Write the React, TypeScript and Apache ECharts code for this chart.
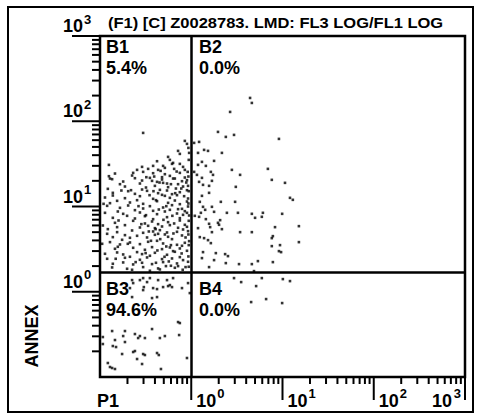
import React, { useEffect, useRef } from "react";
import * as echarts from "echarts";

// ---- texts ----
const TITLE = "(F1) [C] Z0028783. LMD: FL3 LOG/FL1 LOG";
const X_NAME = "P1";
const Y_NAME = "ANNEX";
const QUAD_NAMES = ["B1", "B2", "B3", "B4"];
const QUAD_PERCENTS = ["5.4%", "0.0%", "94.6%", "0.0%"];

// ---- axis scale: 4-decade log display, 1024 channels (0.1 .. 1000) ----
const CHANNEL_MAX = 1024;
const CHANNELS_PER_DECADE = 256;
const DECADE_CHANNELS = [256, 512, 768, 1024];
const DECADE_EXPONENTS = ["0", "1", "2", "3"];
const MINOR_MULTIPLIERS = [2, 3, 4, 5, 6, 7, 8, 9];

// ---- quadrant cursor (channels) ----
const QUAD_X = 256;
const QUAD_Y = 315;

// ---- events [FL1 channel, FL3 channel] ----
const B1_POINTS = [
  [121, 733], [238, 709], [244, 700], [219, 679], [224, 670], [250, 673], [191, 661], [205, 643],
  [25, 637], [118, 631], [135, 625], [149, 634], [163, 622], [177, 634], [182, 628], [202, 640],
  [208, 625], [233, 631], [104, 622], [238, 622], [121, 616], [93, 613],
  [25, 603], [42, 611], [90, 605], [149, 612], [174, 600], [182, 609], [196, 604], [224, 613], [238, 599], [28, 596], [146, 589],
  [34, 594], [65, 587], [98, 597], [118, 590], [140, 598], [160, 586], [174, 593], [188, 581], [205, 596], [230, 588], [244, 591],
  [56, 579], [70, 572], [112, 581], [154, 574], [177, 583], [191, 570], [219, 579], [233, 572],
  [22, 565], [87, 561], [129, 569], [168, 562], [213, 566], [247, 574],
  [36, 553], [79, 558], [98, 550], [132, 559], [163, 552], [188, 560], [202, 549], [224, 555], [244, 561],
  [14, 539], [36, 545], [70, 537], [112, 543], [149, 535], [182, 544], [196, 538], [216, 546], [247, 536],
  [28, 522], [48, 529], [84, 524], [104, 531], [121, 520], [160, 528], [191, 523], [210, 530], [224, 519], [244, 527],
  [20, 514], [56, 508], [79, 515], [121, 506], [140, 513], [177, 509], [202, 516], [230, 505], [247, 512],
  [98, 501], [149, 499], [196, 502], [238, 498],
  [14, 493], [50, 497], [65, 490], [112, 494], [160, 489], [182, 497], [216, 491], [244, 493], [250, 485],
  [36, 478], [76, 484], [98, 476], [126, 483], [149, 474], [188, 480], [224, 477],
  [42, 463], [93, 469], [126, 461], [146, 467], [163, 459], [191, 465], [224, 470],
  [8, 455], [48, 450], [70, 456], [112, 449], [135, 454], [154, 447], [174, 452], [196, 456], [219, 448], [244, 451],
  [22, 444], [168, 441], [233, 443], [247, 438],
  [48, 435], [90, 440], [121, 433], [149, 437], [163, 430], [188, 434], [216, 436],
  [36, 420], [70, 426], [84, 418], [104, 424], [132, 419], [154, 427], [191, 421], [230, 425],
  [62, 412], [160, 409], [202, 414], [250, 408],
  [6, 400], [28, 405], [56, 398], [84, 404], [112, 399], [135, 406], [177, 401], [216, 397], [238, 403],
  [42, 385], [50, 391], [93, 388], [126, 382], [146, 390], [174, 384], [196, 389], [224, 386], [244, 379],
  [14, 370], [48, 374], [65, 368], [104, 375], [118, 369], [154, 373], [188, 367], [210, 376],
  [84, 361], [140, 364], [224, 360],
  [20, 355], [70, 358], [112, 352], [132, 359], [174, 354], [202, 356], [233, 351], [247, 346],
  [36, 340], [65, 344], [93, 338], [118, 343], [146, 339], [177, 345], [216, 341],
  [34, 329], [76, 325], [121, 330], [163, 326], [210, 328], [219, 333],
  [90, 322], [140, 319], [168, 323],
  [152, 602], [167, 584], [199, 579], [228, 566], [211, 552], [174, 547], [236, 543], [157, 531],
  [186, 513], [219, 504], [165, 503], [233, 487], [203, 484], [178, 472], [208, 461], [238, 457],
  [156, 444], [182, 428], [206, 431], [240, 419], [169, 414], [143, 409], [199, 396], [186, 392],
  [230, 394], [161, 380], [205, 378], [181, 361], [229, 371], [193, 347], [157, 343], [240, 330],
  [199, 334], [128, 372], [137, 437], [116, 459], [129, 486], [108, 513], [139, 546], [118, 563],
  [150, 558], [210, 596], [242, 584], [170, 619], [224, 640], [196, 652], [60, 560], [52, 470],
  [78, 400], [20, 430], [10, 520], [44, 355], [100, 345], [185, 333], [232, 322], [246, 616],
  [160, 648], [130, 600], [215, 617],
  [248, 602], [249, 558], [248, 521], [249, 469], [248, 428], [249, 396], [248, 362], [249, 331], [249, 652], [248, 688],
];

const B2_POINTS = [
  [421, 838], [426, 823], [365, 796], [331, 736], [353, 721], [376, 727], [502, 715],
  [264, 703], [278, 706], [275, 673], [292, 682], [303, 679], [342, 673], [320, 649],
  [275, 637], [286, 646], [297, 634], [370, 622], [393, 607], [471, 625], [264, 616],
  [272, 607], [311, 616], [317, 607], [286, 598], [482, 592], [314, 589], [519, 583],
  [278, 586], [289, 577], [306, 574], [381, 571], [306, 553], [286, 544], [533, 538],
  [541, 532], [280, 526], [339, 526], [379, 526], [289, 511], [314, 511], [295, 502],
  [320, 496], [283, 493], [278, 481], [266, 484], [356, 493], [387, 493], [426, 490],
  [435, 478], [457, 493], [454, 481], [511, 490], [297, 474], [337, 471], [331, 463],
  [334, 457], [306, 460], [309, 450], [342, 444], [275, 447], [491, 450], [558, 453],
  [314, 435], [393, 435], [426, 435], [485, 423], [482, 417], [280, 420], [292, 417],
  [303, 411], [311, 402], [558, 405], [482, 393], [505, 396], [502, 378], [508, 375],
  [289, 375], [325, 372], [351, 369], [359, 363], [286, 357], [320, 351], [353, 342],
  [390, 339], [426, 339], [443, 348], [485, 345], [306, 330], [432, 318],
];

const B3_POINTS = [
  [90, 291], [93, 282], [84, 267], [90, 240], [112, 291], [121, 297], [132, 285], [140, 297],
  [123, 270], [121, 261], [149, 267], [160, 264], [177, 270], [191, 273], [196, 276], [202, 270],
  [230, 267], [163, 291], [188, 291], [205, 297], [146, 237], [160, 240], [252, 252], [247, 282],
  [219, 165], [224, 162], [146, 144], [34, 138], [42, 111], [8, 120], [70, 138], [65, 123],
  [98, 129], [112, 123], [107, 117], [126, 117], [168, 117], [182, 123], [222, 126], [8, 99],
  [36, 93], [45, 90], [70, 105], [93, 75], [98, 78], [62, 69], [121, 69], [126, 66],
  [160, 72], [165, 66], [104, 54], [244, 57], [22, 42], [28, 30], [34, 27], [42, 24],
  [118, 39], [171, 24],
];

const B4_POINTS = [
  [376, 297], [396, 285], [454, 297], [438, 273], [513, 294], [533, 288], [424, 225], [466, 234], [511, 222],
];

const FONT = '"Liberation Sans", Arial, Helvetica, sans-serif';

function minorTickChannels(): number[] {
  const out: number[] = [];
  for (let d = 0; d < CHANNEL_MAX / CHANNELS_PER_DECADE; d++) {
    for (const k of MINOR_MULTIPLIERS) out.push(CHANNELS_PER_DECADE * (d + Math.log10(k)));
  }
  return out;
}

function txt(s: string, x: number, y: number, align: string, size: number) {
  return {
    type: "text",
    x,
    y,
    style: {
      text: s,
      font: `bold ${size}px ${FONT}`,
      fill: "#000",
      align,
      verticalAlign: "middle",
      textAlign: align,
      textVerticalAlign: "middle",
    },
  };
}

const BLACK_LINE = { stroke: "#000", lineWidth: 2 };

export default function App() {
  const ref = useRef<HTMLDivElement>(null);

  useEffect(() => {
    if (!ref.current) return;
    const chart = echarts.init(ref.current, undefined, { renderer: "svg" });
    const minor = minorTickChannels();

    const dotSeries = (name: string, data: number[][], extra: any = {}) => ({
      name,
      type: "scatter",
      data,
      symbol: "rect",
      symbolSize: 2.6,
      itemStyle: { color: "#000" },
      silent: true,
      ...extra,
    });

    const option: any = {
      animation: false,
      backgroundColor: "#fff",
      grid: {
        left: 100,
        top: 36,
        right: 14,
        bottom: 39,
        show: true,
        borderColor: "#000",
        borderWidth: 2.5,
        backgroundColor: "transparent",
      },
      xAxis: { type: "value", min: 0, max: CHANNEL_MAX, show: false },
      yAxis: { type: "value", min: 0, max: CHANNEL_MAX, show: false },
      graphic: [
        {
          type: "rect",
          shape: { x: 8, y: 7, width: 465, height: 405 },
          style: { fill: "none", stroke: "#000", lineWidth: 2 },
          silent: true,
        },
        {
          type: "text",
          x: 108,
          y: 23,
          scaleX: 1.1,
          style: { text: TITLE, font: `bold 15px ${FONT}`, fill: "#000", align: "left", verticalAlign: "middle", textAlign: "left", textVerticalAlign: "middle" },
        },
        {
          type: "text",
          x: 97,
          y: 401,
          style: { text: X_NAME, font: `bold 18px ${FONT}`, fill: "#000", align: "left", verticalAlign: "middle", textAlign: "left", textVerticalAlign: "middle" },
        },
        {
          type: "text",
          x: 32,
          y: 336,
          rotation: Math.PI / 2,
          style: { text: Y_NAME, font: `bold 18px ${FONT}`, fill: "#000", align: "center", verticalAlign: "middle", textAlign: "center", textVerticalAlign: "middle" },
        },
        ...[
          [106, 47, 68],
          [199, 47, 68],
          [106, 289, 310],
          [199, 289, 310],
        ].flatMap(([x, y1, y2], i) => [
          {
            type: "text",
            x,
            y: y1,
            style: { text: QUAD_NAMES[i], font: `bold 18px ${FONT}`, fill: "#000", align: "left", verticalAlign: "middle", textAlign: "left", textVerticalAlign: "middle" },
          },
          {
            type: "text",
            x,
            y: y2,
            style: { text: QUAD_PERCENTS[i], font: `bold 18px ${FONT}`, fill: "#000", align: "left", verticalAlign: "middle", textAlign: "left", textVerticalAlign: "middle" },
          },
        ]),
      ],
      series: [
        dotSeries("B1", B1_POINTS, {
          markLine: {
            silent: true,
            symbol: "none",
            label: { show: false },
            lineStyle: { color: "#000", width: 2.5, type: "solid" },
            data: [{ xAxis: QUAD_X }, { yAxis: QUAD_Y }],
          },
        }),
        dotSeries("B2", B2_POINTS),
        dotSeries("B3", B3_POINTS),
        dotSeries("B4", B4_POINTS),
        // x minor ticks
        {
          type: "custom",
          silent: true,
          clip: false,
          data: minor.map((v) => [v, 0]),
          renderItem: (_p: any, api: any) => {
            const p = api.coord([api.value(0), 0]);
            return { type: "line", shape: { x1: p[0], y1: p[1] + 1, x2: p[0], y2: p[1] + 7 }, style: BLACK_LINE };
          },
        },
        // y minor ticks
        {
          type: "custom",
          silent: true,
          clip: false,
          data: minor.map((v) => [0, v]),
          renderItem: (_p: any, api: any) => {
            const p = api.coord([0, api.value(1)]);
            return { type: "line", shape: { x1: p[0] - 8, y1: p[1], x2: p[0] - 1, y2: p[1] }, style: BLACK_LINE };
          },
        },
        // x decades
        {
          type: "custom",
          silent: true,
          clip: false,
          data: DECADE_CHANNELS.map((v) => [v, 0]),
          renderItem: (params: any, api: any) => {
            const i = params.dataIndex;
            const p = api.coord([api.value(0), 0]);
            const exp = DECADE_EXPONENTS[i];
            const last = i === DECADE_CHANNELS.length - 1;
            const children: any[] = [
              { type: "line", shape: { x1: p[0], y1: p[1], x2: p[0], y2: p[1] + 23 }, style: BLACK_LINE },
            ];
            if (!last) {
              children.push(txt("10", p[0] + 5, p[1] + 24, "left", 18));
              children.push(txt(exp, p[0] + 26, p[1] + 16, "left", 13));
            } else {
              children.push(txt(exp, p[0] - 4, p[1] + 16, "right", 13));
              children.push(txt("10", p[0] - 13, p[1] + 24, "right", 18));
            }
            return { type: "group", children };
          },
        },
        // y decades
        {
          type: "custom",
          silent: true,
          clip: false,
          data: DECADE_CHANNELS.map((v) => [0, v]),
          renderItem: (params: any, api: any) => {
            const i = params.dataIndex;
            const p = api.coord([0, api.value(1)]);
            const exp = DECADE_EXPONENTS[i];
            return {
              type: "group",
              children: [
                { type: "line", shape: { x1: p[0] - 28, y1: p[1], x2: p[0], y2: p[1] }, style: BLACK_LINE },
                txt("10", p[0] - 17, p[1] - 10, "right", 18),
                txt(exp, p[0] - 16, p[1] - 17, "left", 13),
              ],
            };
          },
        },
      ],
    };

    chart.setOption(option);
    return () => chart.dispose();
  }, []);

  return <div ref={ref} style={{ position: "fixed", left: 0, top: 0, width: 479, height: 416 }} />;
}
